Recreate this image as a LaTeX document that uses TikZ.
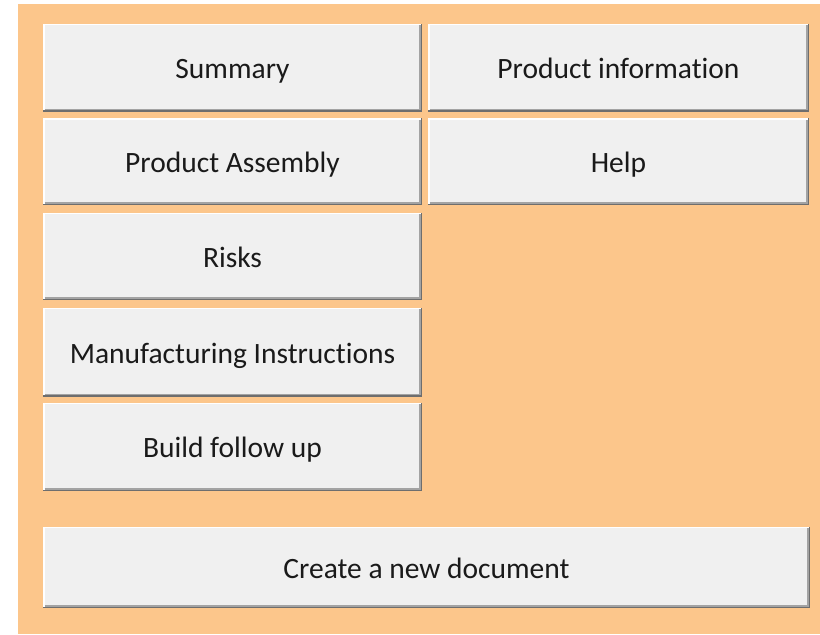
\documentclass[tikz,border=0pt]{standalone}
\usepackage{fontspec}
\setmainfont{Carlito}[Ligatures=NoCommon]
\definecolor{panel}{HTML}{FCC68B}
\definecolor{face}{HTML}{F0F0F0}
\definecolor{shdark}{HTML}{6E6E6E}
\definecolor{shmid}{HTML}{A3A3A3}
\definecolor{txt}{HTML}{1A1A1A}
\tikzset{
  btn/.style={fill=face, draw=none, inner sep=0pt, outer sep=0pt, anchor=north west,
    minimum width=379pt, minimum height=88pt, text=txt,
    text height=22pt, text depth=0pt,
    font=\fontsize{29.5}{35}\selectfont},
  widebtn/.style={btn, minimum width=767pt, minimum height=81.5pt}
}
\begin{document}
\begin{tikzpicture}[x=1pt,y=-1pt]
\useasboundingbox (0,0) rectangle (820,635);
\fill[white] (0,0) rectangle (820,635);
\fill[panel] (18,4) rectangle (820,634);
\node[btn] (sum)   at (43,23.5)  {Summary};
\node[btn, minimum width=381pt] (pinfo) at (428,23.5) {Product information};
\node[btn, minimum height=87pt] (pasm)  at (43,118)   {Product Assembly};
\node[btn, minimum width=381pt, minimum height=87pt] (help)  at (428,118) {Help};
\node[btn, minimum height=87.5pt] (risks) at (43,212.5) {Risks};
\node[btn, minimum height=89pt] (manuf) at (43,307.5) {Manufacturing Instructions};
\node[btn, minimum height=88.5pt] (build) at (43,402.5) {Build follow up};
\node[widebtn] (create) at (43,526.5) {Create a new document};
\foreach \n in {sum,pinfo,pasm,help,risks,manuf,build,create}{
  \draw[white, line width=1.5pt] ([xshift=.75pt]\n.south west) -- ([xshift=.75pt,yshift=-.75pt]\n.north west) -- ([yshift=-.75pt]\n.north east);
  \draw[shmid, line width=1.5pt] ([xshift=1.5pt,yshift=2.25pt]\n.south west) -- ([xshift=-2.25pt,yshift=2.25pt]\n.south east) -- ([xshift=-2.25pt,yshift=-1.5pt]\n.north east);
  \draw[shdark, line width=1.5pt] ([yshift=.75pt]\n.south west) -- ([xshift=-.75pt,yshift=.75pt]\n.south east) -- ([xshift=-.75pt]\n.north east);
}
\end{tikzpicture}
\end{document}
